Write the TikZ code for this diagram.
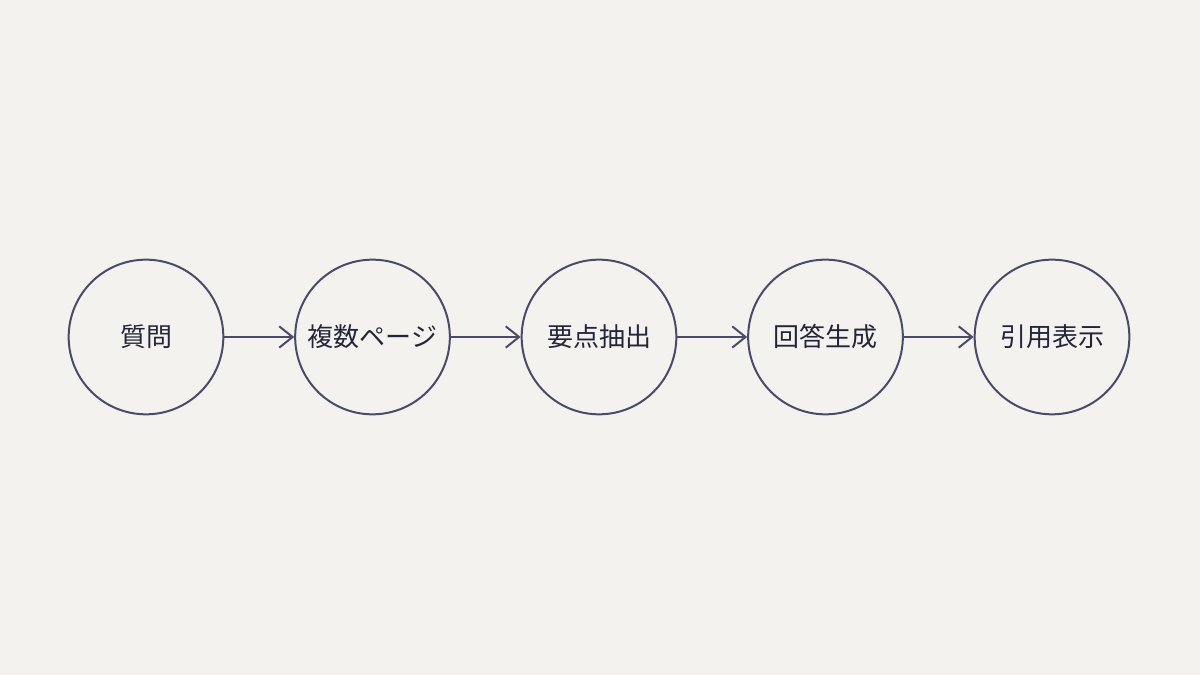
\documentclass[tikz,border=0pt]{standalone}
\usepackage{fontspec}
\setmainfont{Noto Sans CJK JP}
\usetikzlibrary{arrows.meta}
\definecolor{bgpaper}{HTML}{F3F2EE}
\definecolor{inkline}{HTML}{4B4B69}
\definecolor{inktext}{HTML}{25253A}
\tikzset{
  stage/.style={circle,draw=inkline,line width=1.5pt,minimum size=116pt,inner sep=0pt,
    text=inktext,font=\fontsize{19.5pt}{22pt}\selectfont},
  flow/.style={draw=inkline,line width=1.5pt,-{Straight Barb[length=10pt,width=16pt,line width=1.5pt]}}
}
\begin{document}
\begin{tikzpicture}[x=0.75pt,y=0.75pt]
  \fill[bgpaper] (0,0) rectangle (1200,675);
  \useasboundingbox (0,0) rectangle (1200,675);

  \node[stage] (question) at (146,338) {質問};
  \node[stage] (pages)    at (372.5,338) {複数ページ};
  \node[stage] (points)   at (599,338) {要点抽出};
  \node[stage] (answer)   at (825.5,338) {回答生成};
  \node[stage] (cite)     at (1052,338) {引用表示};

  \draw[flow] (question) -- (pages);
  \draw[flow] (pages) -- (points);
  \draw[flow] (points) -- (answer);
  \draw[flow] (answer) -- (cite);

\end{tikzpicture}
\end{document}
